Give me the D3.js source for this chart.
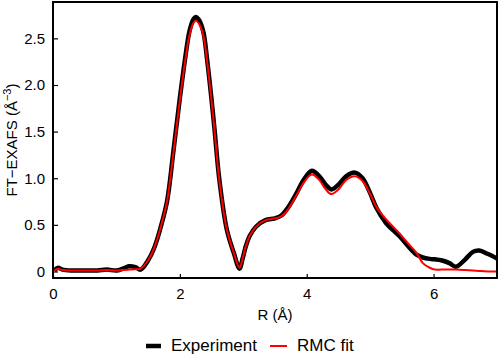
<!DOCTYPE html>
<html>
<head>
<meta charset="utf-8">
<script src="https://cdn.jsdelivr.net/npm/d3@7"></script>
<style>
  body { margin: 0; background: #fff; }
  text { font-family: "Liberation Sans", Arial, sans-serif; }
</style>
</head>
<body>
<div id="my_dataviz"></div>
<script>
// data
var rValues = [0.02,0.08,0.15,0.3,0.5,0.7,0.85,1.0,1.1,1.2,1.3,1.38,1.5,1.6,1.7,1.8,1.9,2.0,2.08,2.15,
               2.21,2.25,2.3,2.37,2.43,2.5,2.55,2.62,2.74,2.85,2.94,2.99,3.04,3.1,3.2,3.35,3.5,3.6,3.7,3.84,3.95,
               4.08,4.2,4.3,4.39,4.5,4.62,4.76,4.88,5.0,5.1,5.25,5.46,5.6,5.73,5.83,5.94,6.02,6.12,6.25,6.35,
               6.5,6.62,6.72,6.85,7.0];
var experiment = [0.01,0.04,0.02,0.01,0.01,0.01,0.02,0.01,0.03,0.055,0.045,0.02,0.12,0.26,0.48,0.76,1.3,1.86,2.27,2.57,
                  2.70,2.73,2.70,2.57,2.27,1.84,1.5,1.0,0.45,0.2,0.03,0.14,0.27,0.38,0.48,0.55,0.57,0.6,0.68,0.84,0.98,
                  1.08,1.02,0.93,0.88,0.93,1.02,1.06,1.0,0.84,0.68,0.52,0.38,0.27,0.18,0.15,0.135,0.13,0.12,0.09,0.05,
                  0.13,0.21,0.225,0.19,0.14];
var rmcFit = [0.01,0.03,0.015,0.01,0.01,0.01,0.015,0.01,0.015,0.02,0.025,0.03,0.12,0.26,0.48,0.76,1.28,1.84,2.24,2.53,
              2.66,2.69,2.66,2.53,2.25,1.83,1.49,0.99,0.45,0.2,0.04,0.14,0.27,0.38,0.48,0.55,0.57,0.59,0.66,0.82,0.95,
              1.04,0.98,0.88,0.83,0.88,0.98,1.02,0.97,0.83,0.69,0.56,0.41,0.30,0.20,0.09,0.04,0.02,0.02,0.02,0.02,
              0.015,0.01,0.005,0.0,0.0];
var xTicks = [0, 2, 4, 6];
var yTicks = [0, 0.5, 1.0, 1.5, 2.0, 2.5];
var yTickLabels = ["0", "0.5", "1.0", "1.5", "2.0", "2.5"];
var seriesNames = ["Experiment", "RMC fit"];

var margin = {top: 2, right: 3, bottom: 84, left: 53},
    width = 500 - margin.left - margin.right,
    height = 362 - margin.top - margin.bottom;

var svg = d3.select("#my_dataviz")
  .append("svg")
    .attr("width", 500)
    .attr("height", 362)
  .append("g")
    .attr("transform", "translate(" + margin.left + "," + margin.top + ")");

var x = d3.scaleLinear().domain([0, 7]).range([0, width]);
var y = d3.scaleLinear().domain([-0.07, 2.89]).range([height, 0]);

// axes, ticks pointing inward
var xAxis = svg.append("g")
  .attr("transform", "translate(0," + height + ")")
  .call(d3.axisBottom(x).tickValues(xTicks).tickFormat(d3.format("d")).tickSizeInner(-4).tickSizeOuter(0).tickPadding(10));
var yAxis = svg.append("g")
  .call(d3.axisLeft(y).tickValues(yTicks).tickFormat(function(d, i) { return yTickLabels[i]; }).tickSizeInner(-5).tickSizeOuter(0).tickPadding(8));

[xAxis, yAxis].forEach(function(a) {
  a.select(".domain").remove();
  a.selectAll(".tick line").attr("stroke", "#000").attr("stroke-width", 1.2);
  a.selectAll(".tick text").attr("fill", "#000").style("font-size", "15px");
});
xAxis.selectAll(".tick text").attr("dy", "0.71em");

var line = function(vals) {
  return d3.line()
    .x(function(d, i) { return x(rValues[i]); })
    .y(function(d) { return y(d); })
    .curve(d3.curveCatmullRom.alpha(0.5))(vals);
};

var plot = svg.append("g");
plot.append("path")
  .attr("d", line(experiment))
  .attr("fill", "none")
  .attr("stroke", "#000")
  .attr("stroke-width", 4.5)
  .attr("stroke-linejoin", "round");
plot.append("path")
  .attr("d", line(rmcFit))
  .attr("fill", "none")
  .attr("stroke", "#ff0000")
  .attr("stroke-width", 2)
  .attr("stroke-linejoin", "round");

// frame
svg.append("rect")
  .attr("x", 0).attr("y", 0)
  .attr("width", width).attr("height", height)
  .attr("fill", "none")
  .attr("stroke", "#000")
  .attr("stroke-width", 2);

// axis titles
svg.append("text")
  .attr("x", width / 2)
  .attr("y", height + 42)
  .attr("text-anchor", "middle")
  .style("font-size", "15px")
  .text("R (Å)");

var yl = svg.append("text")
  .attr("transform", "translate(" + (-36) + "," + (height / 2) + ") rotate(-90)")
  .attr("text-anchor", "middle")
  .style("font-size", "15px");
yl.append("tspan").text("FT\u2212EXAFS (Å");
yl.append("tspan").attr("dy", -6).style("font-size", "11px").text("\u22123");
yl.append("tspan").attr("dy", 6).text(")");

// legend
var legend = svg.append("g").attr("transform", "translate(" + (-margin.left) + ",0)");
var legendItems = [
  {name: seriesNames[0], color: "#000", w: 4.5, x1: 146, x2: 161, tx: 171},
  {name: seriesNames[1], color: "#ff0000", w: 2, x1: 270, x2: 287, tx: 297}
];
legendItems.forEach(function(d) {
  legend.append("line")
    .attr("x1", d.x1).attr("x2", d.x2)
    .attr("y1", 344).attr("y2", 344)
    .attr("stroke", d.color).attr("stroke-width", d.w);
  legend.append("text")
    .attr("x", d.tx).attr("y", 349)
    .style("font-size", "17px")
    .text(d.name);
});
</script>
</body>
</html>
